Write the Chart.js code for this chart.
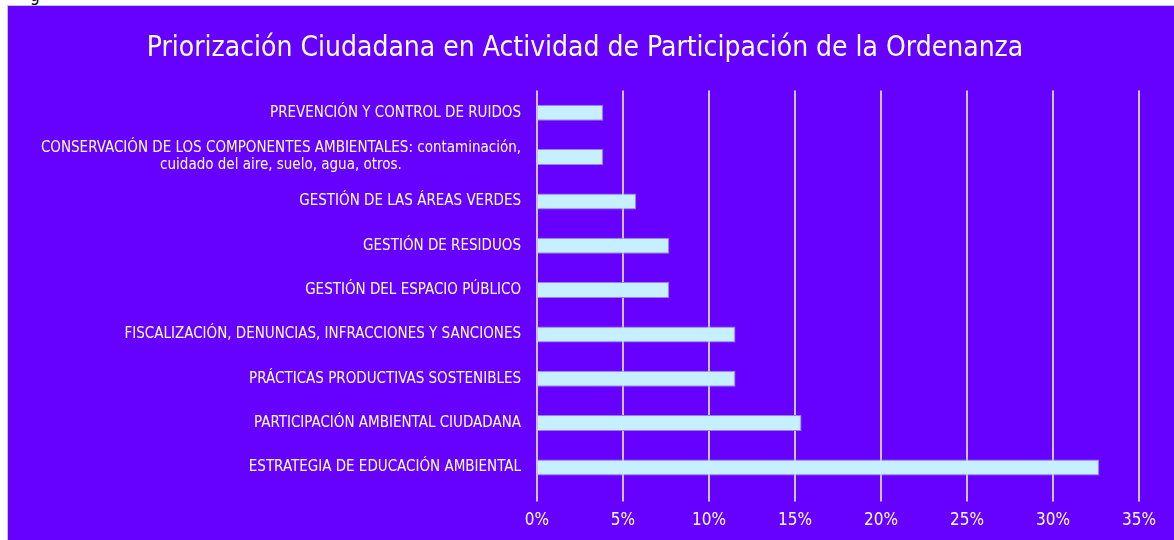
<!DOCTYPE html>
<html>
<head>
<meta charset="utf-8">
<script src="https://cdn.jsdelivr.net/npm/chart.js@4"></script>
<style>
    body { margin: 0; background: #fff; width: 1174px; height: 540px; overflow: hidden; position: relative; }
    #cut { position: absolute; left: 30px; top: -15px; font: 17px "DejaVu Sans Condensed", "DejaVu Sans", sans-serif; color: #000; }
    #panel { position: absolute; left: 7px; top: 5px; width: 1166px; height: 534px; background: #6600ff; border-left: 1px solid #c8c8c8; border-top: 1px solid #c8c8c8; }
</style>
</head>
<body>
<div id="cut">g</div>
<div id="panel"><canvas id="mainChart" width="1166" height="534"></canvas></div>
<script>
// Datos del gráfico
const categorias = [
    'PREVENCIÓN Y CONTROL DE RUIDOS',
    ['CONSERVACIÓN DE LOS COMPONENTES AMBIENTALES: contaminación,', 'cuidado del aire, suelo, agua, otros.'],
    'GESTIÓN DE LAS ÁREAS VERDES',
    'GESTIÓN DE RESIDUOS',
    'GESTIÓN DEL ESPACIO PÚBLICO',
    'FISCALIZACIÓN, DENUNCIAS, INFRACCIONES Y SANCIONES',
    'PRÁCTICAS PRODUCTIVAS SOSTENIBLES',
    'PARTICIPACIÓN AMBIENTAL CIUDADANA',
    'ESTRATEGIA DE EDUCACIÓN AMBIENTAL'
];
const porcentajes = [3.85, 3.85, 5.77, 7.69, 7.69, 11.54, 11.54, 15.38, 32.69];
const ticksX = [0, 5, 10, 15, 20, 25, 30, 35];

const fuente = '"DejaVu Sans Condensed", "DejaVu Sans", sans-serif';

// Etiquetas del eje Y: bloque alineado a la derecha, líneas centradas entre sí
const etiquetasY = {
    id: 'etiquetasY',
    afterDraw(chart) {
        const scale = chart.scales.y;
        const ctx = chart.ctx;
        ctx.save();
        ctx.font = '15px ' + fuente;
        ctx.fillStyle = '#ffffff';
        ctx.textAlign = 'center';
        ctx.textBaseline = 'middle';
        const lineH = 17;
        categorias.forEach((cat, i) => {
            const lines = Array.isArray(cat) ? cat : [cat];
            const maxW = Math.max(...lines.map(l => ctx.measureText(l).width));
            const cx = scale.right - 16 - maxW / 2;
            const y = scale.getPixelForTick(i);
            const y0 = y - (lines.length - 1) * lineH / 2;
            lines.forEach((l, k) => ctx.fillText(l, cx, y0 + k * lineH));
        });
        ctx.restore();
    }
};

new Chart(document.getElementById('mainChart').getContext('2d'), {
    type: 'bar',
    data: {
        labels: categorias,
        datasets: [{
            data: porcentajes,
            backgroundColor: '#c6f0ff',
            borderColor: '#9a7cf4',
            borderWidth: 1,
            barPercentage: 0.36,
            categoryPercentage: 1
        }]
    },
    options: {
        indexAxis: 'y',
        responsive: false,
        animation: false,
        layout: { padding: { left: 23, right: 35, top: 0, bottom: 0 } },
        plugins: {
            legend: { display: false },
            tooltip: { enabled: false },
            title: {
                display: true,
                text: 'Priorización Ciudadana en Actividad de Participación de la Ordenanza',
                color: '#ffffff',
                font: { family: fuente, size: 28, weight: 'normal' },
                padding: { top: 26, bottom: 25 }
            }
        },
        scales: {
            x: {
                min: 0,
                max: 35,
                afterBuildTicks: scale => { scale.ticks = ticksX.map(v => ({ value: v })); },
                grid: { color: '#cfc2f2', lineWidth: 2, tickLength: 12 },
                border: { display: false },
                ticks: {
                    color: '#ffffff',
                    padding: 9,
                    font: { family: fuente, size: 17 },
                    callback: v => v + '%'
                }
            },
            y: {
                grid: { display: false },
                border: { display: false },
                afterFit: scale => { scale.width = 506; },
                ticks: { color: 'rgba(0,0,0,0)', font: { family: fuente, size: 13 } }
            }
        }
    },
    plugins: [etiquetasY]
});
</script>
</body>
</html>
